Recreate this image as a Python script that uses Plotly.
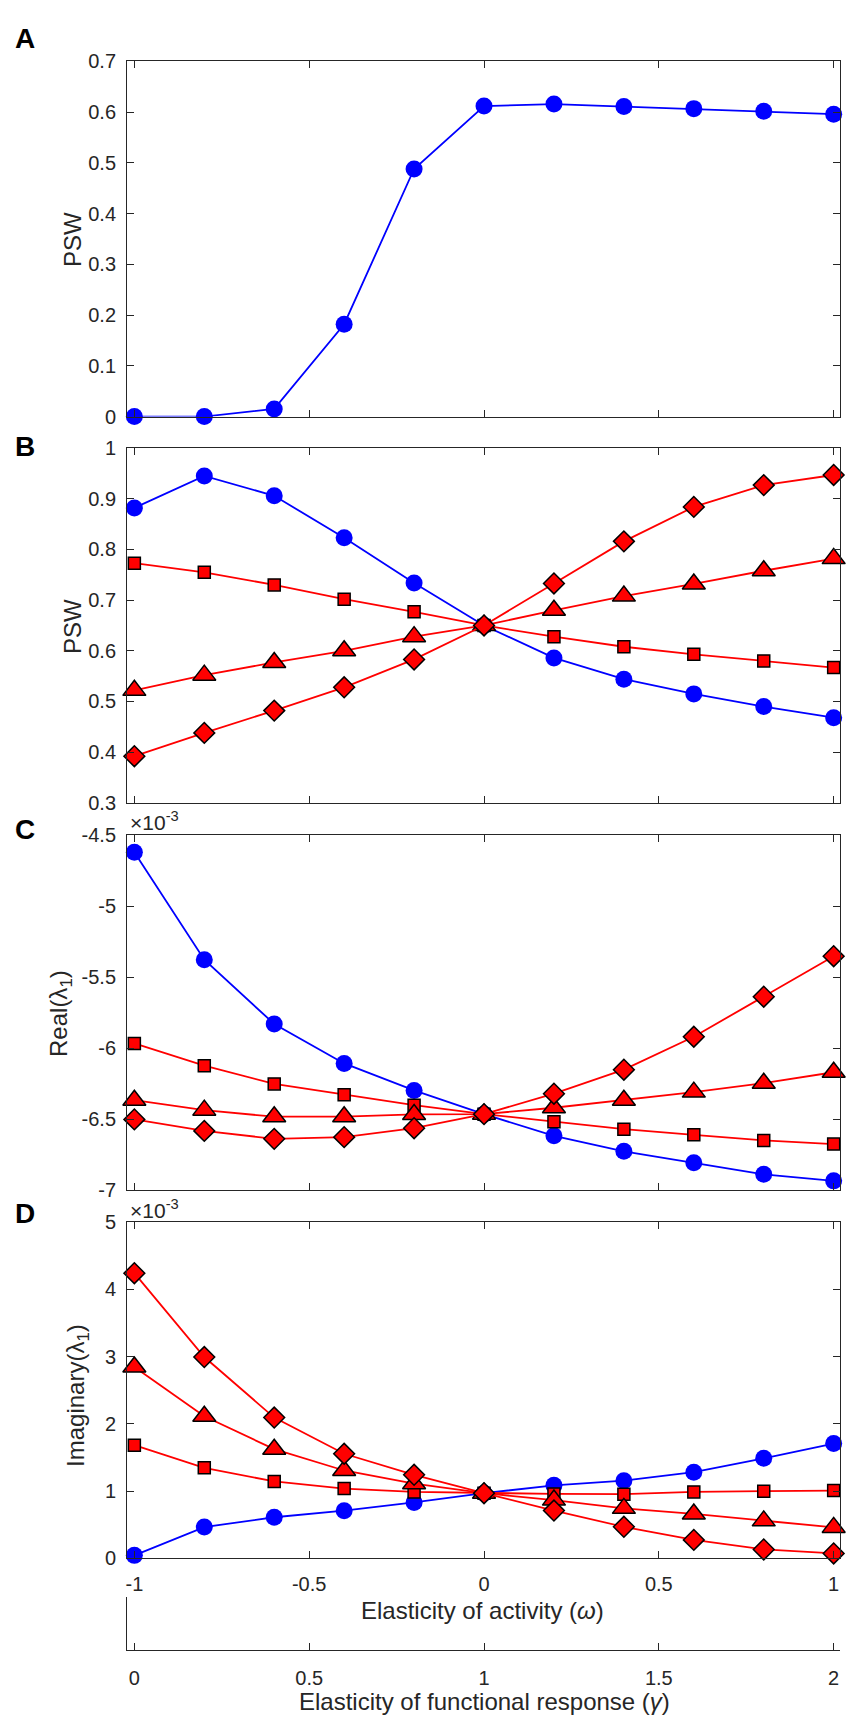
import plotly.graph_objects as go

# page body has an 8px margin, so the figure is a bit smaller than the window
PAD = 8
W, H = 854 - 2 * PAD, 1733 - 2 * PAD

# x values (elasticity of activity, omega) and secondary axis (gamma)
omega = [-1, -0.8, -0.6, -0.4, -0.2, 0, 0.2, 0.4, 0.6, 0.8, 1]
gamma = [0, 0.2, 0.4, 0.6, 0.8, 1, 1.2, 1.4, 1.6, 1.8, 2]

# panel A: PSW
psw_a = [0, 0, 0.015, 0.182, 0.488, 0.612, 0.616, 0.611, 0.607, 0.602, 0.596]

# panel B: PSW
psw_b_circ = [0.882, 0.945, 0.906, 0.823, 0.734, 0.650, 0.586, 0.544, 0.515, 0.490, 0.468]
psw_b_sq = [0.773, 0.755, 0.730, 0.702, 0.677, 0.650, 0.628, 0.608, 0.593, 0.580, 0.567]
psw_b_tri = [0.522, 0.552, 0.577, 0.600, 0.628, 0.650, 0.680, 0.708, 0.732, 0.758, 0.782]
psw_b_dia = [0.392, 0.438, 0.482, 0.528, 0.583, 0.650, 0.733, 0.816, 0.884, 0.927, 0.947]

# panel C: Real(lambda_1), in units of 1e-3
re_circ = [-4.62, -5.378, -5.83, -6.108, -6.298, -6.465, -6.618, -6.727, -6.808, -6.889, -6.935]
re_sq = [-5.967, -6.124, -6.252, -6.328, -6.402, -6.465, -6.518, -6.571, -6.611, -6.650, -6.676]
re_tri = [-6.367, -6.437, -6.483, -6.483, -6.467, -6.465, -6.42, -6.367, -6.31, -6.247, -6.17]
re_dia = [-6.502, -6.583, -6.639, -6.627, -6.564, -6.465, -6.321, -6.152, -5.92, -5.638, -5.353]

# panel D: Imaginary(lambda_1), in units of 1e-3
im_circ = [0.044, 0.465, 0.611, 0.709, 0.831, 0.968, 1.086, 1.154, 1.281, 1.487, 1.707]
im_sq = [1.682, 1.345, 1.144, 1.037, 0.988, 0.968, 0.958, 0.954, 0.988, 0.998, 1.007]
im_tri = [2.846, 2.112, 1.623, 1.306, 1.11, 0.968, 0.866, 0.743, 0.66, 0.557, 0.46]
im_dia = [4.24, 2.993, 2.093, 1.555, 1.242, 0.968, 0.71, 0.469, 0.274, 0.132, 0.073]

# tick labels
xticks_omega = [-1, -0.5, 0, 0.5, 1]
xticks_gamma = [0, 0.5, 1, 1.5, 2]
yticks_a = [0, 0.1, 0.2, 0.3, 0.4, 0.5, 0.6, 0.7]
yticks_b = [0.3, 0.4, 0.5, 0.6, 0.7, 0.8, 0.9, 1]
yticks_c = [-7, -6.5, -6, -5.5, -5, -4.5]
yticks_d = [0, 1, 2, 3, 4, 5]


def fx(p):
    # page pixel -> paper fraction
    return (p - PAD) / W


def fy(p):
    return 1 - (p - PAD) / H


FONT = "Liberation Sans, Arial, sans-serif"
AX = "#262626"
BLUE = "#0000FF"
RED = "#FF0000"
TICKFONT = 20

# panel pixel boxes (top, bottom) on the page
panels = [(51, 410.7), (442.7, 802), (834.7, 1194.3), (1226.7, 1567.3)]
yranges = [[0, 0.7], [0.3, 1], [-7, -4.5], [0, 5]]
yticks = [yticks_a, yticks_b, yticks_c, yticks_d]
xdom = [fx(125.3), fx(840.3)]

fig = go.Figure()


def blue(x, y, n):
    fig.add_trace(go.Scatter(
        x=x, y=y, xaxis="x%d" % n, yaxis="y%d" % n, mode="lines+markers",
        line=dict(color=BLUE, width=1.8),
        marker=dict(symbol="circle", size=17, color=BLUE, line=dict(width=0)),
        cliponaxis=False, showlegend=False, hoverinfo="skip"))


def red(x, y, n, sym, size):
    fig.add_trace(go.Scatter(
        x=x, y=y, xaxis="x%d" % n, yaxis="y%d" % n, mode="lines+markers",
        line=dict(color=RED, width=1.8),
        marker=dict(symbol=sym, size=size, color=RED, line=dict(width=1.5, color="black")),
        cliponaxis=False, showlegend=False, hoverinfo="skip"))


blue(omega, psw_a, 1)

blue(omega, psw_b_circ, 2)
red(omega, psw_b_sq, 2, "square", 12)
red(omega, psw_b_tri, 2, "triangle-up", 20)
red(omega, psw_b_dia, 2, "diamond", 16)

blue(omega, re_circ, 3)
red(omega, re_sq, 3, "square", 12)
red(omega, re_tri, 3, "triangle-up", 20)
red(omega, re_dia, 3, "diamond", 16)

blue(omega, im_circ, 4)
red(omega, im_sq, 4, "square", 12)
red(omega, im_tri, 4, "triangle-up", 20)
red(omega, im_dia, 4, "diamond", 16)

# invisible trace so the gamma axis is drawn
fig.add_trace(go.Scatter(x=gamma, y=[0] * len(gamma), xaxis="x5", yaxis="y5",
                         mode="markers", marker=dict(opacity=0), showlegend=False,
                         hoverinfo="skip"))

layout = dict(
    width=W, height=H, margin=dict(l=0, r=0, t=0, b=0),
    paper_bgcolor="white", plot_bgcolor="white",
    font=dict(family=FONT, color=AX, size=TICKFONT),
)

for i, ((top, bot), yr, yt) in enumerate(zip(panels, yranges, yticks), start=1):
    key = "" if i == 1 else str(i)
    layout["xaxis" + key] = dict(
        domain=xdom, anchor="y%d" % i, range=[-1.021, 1.019],
        tickvals=xticks_omega, ticktext=[str(v) for v in xticks_omega],
        showticklabels=(i == 4), ticks="inside", ticklen=7, tickcolor=AX,
        showline=True, linecolor=AX, linewidth=1, mirror="ticks",
        showgrid=False, zeroline=False, ticklabelstandoff=8,
        tickfont=dict(size=TICKFONT))
    layout["yaxis" + key] = dict(
        domain=[fy(bot), fy(top)], anchor="x%d" % i, range=yr,
        tickvals=yt, ticktext=[("%g" % v) for v in yt],
        ticks="inside", ticklen=7, tickcolor=AX,
        showline=True, linecolor=AX, linewidth=1, mirror="ticks",
        showgrid=False, zeroline=False, ticklabelstandoff=6,
        tickfont=dict(size=TICKFONT))

layout["xaxis5"] = dict(
    domain=xdom, anchor="y5", range=[-0.021, 2.019],
    tickvals=xticks_gamma, ticktext=["%g" % v for v in xticks_gamma],
    ticks="inside", ticklen=7, tickcolor=AX,
    showline=True, linecolor=AX, linewidth=1, mirror=False,
    showgrid=False, zeroline=False, ticklabelstandoff=10,
    tickfont=dict(size=TICKFONT))
layout["yaxis5"] = dict(
    domain=[fy(1660), fy(1606.7)], anchor="x5", range=[0, 1],
    showticklabels=False, ticks="", showline=True, linecolor=AX, linewidth=1,
    mirror=False, showgrid=False, zeroline=False)


def note(text, x, y, size, angle=0, xanchor="center", color=AX):
    return dict(text=text, x=fx(x), y=fy(y), xref="paper", yref="paper",
                xanchor=xanchor, yanchor="middle", textangle=angle, showarrow=False,
                font=dict(size=size, color=color, family=FONT))


ann = []
for letter, yc in zip("ABCD", [28, 441, 829, 1218]):
    ann.append(note("<b>%s</b>" % letter, 23, yc, 28, color="black"))

ytitles = [("PSW", 70, 231), ("PSW", 70, 623),
           ("Real(λ<sub>1</sub>)", 58, 1015), ("Imaginary(λ<sub>1</sub>)", 75, 1402)]
for txt, xc, yc in ytitles:
    ann.append(note(txt, xc, yc, 24, angle=-90))

for yc in [820, 1213]:
    ann.append(note("×10<sup>-3</sup>", 126, yc, 21, xanchor="left"))

ann.append(note("Elasticity of activity (<i>ω</i>)", 481.5, 1620, 24))
ann.append(note("Elasticity of functional response (<i>γ</i>)", 483.5, 1712, 24))

layout["annotations"] = ann
fig.update_layout(**layout)

fig.write_html("out.html")
